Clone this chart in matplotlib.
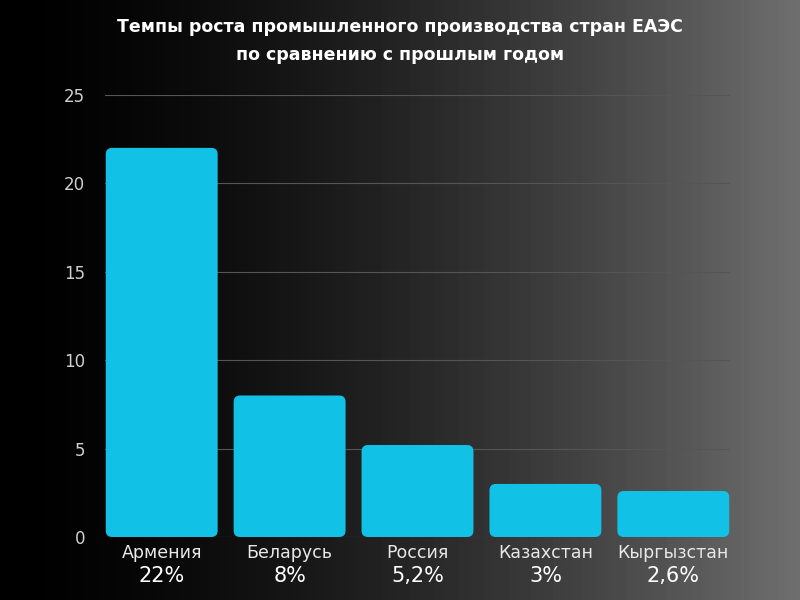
import matplotlib
matplotlib.use('Agg')
import matplotlib.pyplot as plt
import numpy as np
from matplotlib.patches import FancyBboxPatch

countries = ['Армения', 'Беларусь', 'Россия', 'Казахстан', 'Кыргызстан']
values = [22, 8, 5.2, 3, 2.6]
pct_labels = ['22%', '8%', '5,2%', '3%', '2,6%']
yticks = [0, 5, 10, 15, 20, 25]

fig = plt.figure(figsize=(8, 6), dpi=100)

# background gradient: black on the left, grey on the right
bg = fig.add_axes([0, 0, 1, 1])
grad = np.linspace(0, 1, 256) ** 1.6
bg.imshow(np.vstack([grad, grad]), aspect='auto', cmap='gray', vmin=0, vmax=2.3,
          extent=[0, 1, 0, 1])
bg.axis('off')

ax = fig.add_axes([0.131, 0.105, 0.781, 0.737])
ax.patch.set_alpha(0)
ax.set_xlim(-0.445, 4.44)
ax.set_ylim(0, 25)

w = 0.875
for i, v in enumerate(values):
    ax.add_patch(FancyBboxPatch((i - w / 2, 0), w, v,
                                boxstyle='round,pad=0,rounding_size=0.05',
                                mutation_aspect=7.2, fc='#12c2e6', ec='none', zorder=3))

ax.set_yticks(yticks)
ax.yaxis.grid(True, color='#555555', lw=0.8)
ax.set_axisbelow(True)
ax.tick_params(axis='y', length=0, colors='#d0d0d0', labelsize=12, pad=14)
ax.set_xticks([])
for s in ax.spines.values():
    s.set_visible(False)

for i, (c, p) in enumerate(zip(countries, pct_labels)):
    ax.text(i, -0.9, c, ha='center', va='center', color='#e8e8e8', fontsize=12.5)
    ax.text(i, -2.2, p, ha='center', va='center', color='white', fontsize=15)

fig.text(0.5, 0.932, 'Темпы роста промышленного производства стран ЕАЭС\nпо сравнению с прошлым годом',
         ha='center', va='center', color='white', fontsize=12.5, fontweight='bold',
         linespacing=1.7)

fig.savefig('out.png', dpi=100)
